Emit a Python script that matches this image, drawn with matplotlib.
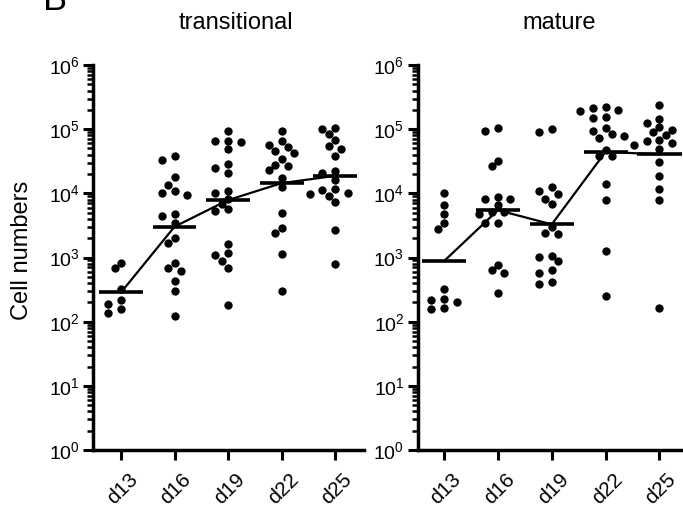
import numpy as np
import matplotlib
matplotlib.use("Agg")
import matplotlib.pyplot as plt
import matplotlib.transforms as mtransforms
from matplotlib.ticker import LogLocator, FixedFormatter, NullFormatter, FixedLocator

plt.rcParams['font.family'] = ['Liberation Sans', 'DejaVu Sans']
plt.rcParams['mathtext.fontset'] = 'custom'
plt.rcParams['mathtext.rm'] = 'Liberation Sans'

# ---------------- data ----------------
days = ["d13", "d16", "d19", "d22", "d25"]
panel_titles = ["transitional", "mature"]
y_exponents = [0, 1, 2, 3, 4, 5, 6]

trans_d13 = [810, 680, 320, 217, 186, 157, 138]
trans_d16 = [38600, 33500, 18100, 13700, 11000, 10300, 9400, 4700, 4500, 3400,
             2000, 1660, 830, 680, 610, 430, 300, 122]
trans_d19 = [94000, 66000, 66000, 63000, 49000, 28500, 25000, 21000, 10900, 10300,
             8100, 6800, 5700, 5300, 1620, 1160, 1090, 890, 680, 181]
trans_d22 = [93000, 66000, 56000, 52000, 45000, 42000, 34000, 27500, 26500, 23000,
             17400, 12600, 5000, 2900, 2400, 1120, 300]
trans_d25 = [106000, 100000, 84000, 69000, 54000, 49000, 38000, 22200, 20400, 16100,
             11500, 11200, 10000, 9700, 9100, 7200, 2700, 790]

mat_d13 = [10000, 6500, 4700, 3500, 2800, 320, 225, 217, 202, 163, 155]
mat_d16 = [102600, 93000, 31800, 26500, 8800, 8300, 8100, 6550, 5150, 5100,
           4700, 3500, 3400, 760, 640, 565, 276]
mat_d19 = [100000, 90800, 12600, 10900, 9600, 8300, 6700, 2940, 2370, 2310,
           1060, 1030, 890, 637, 565, 418, 385]
mat_d22 = [222000, 210000, 198000, 190500, 156000, 147000, 102600, 93100, 83600, 78700,
           71600, 47100, 38400, 38400, 13900, 7830, 1270, 253]
mat_d25 = [236600, 145900, 126200, 108600, 96400, 90800, 80700, 67500, 66200, 59800,
           56400, 48800, 31000, 18500, 11500, 7830, 161]

transitional = [trans_d13, trans_d16, trans_d19, trans_d22, trans_d25]
mature = [mat_d13, mat_d16, mat_d19, mat_d22, mat_d25]

# ---------------- figure ----------------
W, H = 683, 513
fig = plt.figure(figsize=(W / 100, H / 100), dpi=100)
ax1 = fig.add_axes([93 / W, 1 - 450 / H, 271 / W, 385 / H])
ax2 = fig.add_axes([417.5 / W, 1 - 450 / H, 266 / W, 385 / H])

DOT_PX = 8.3
STEP_PX = 6.3


def swarm_x(ax, vals, center):
    tr = ax.transData
    ys = [tr.transform((0, v))[1] for v in vals]
    ux = tr.transform((1, 1))[0] - tr.transform((0, 1))[0]
    order = np.argsort(ys)[::-1]
    placed = []
    offs = np.zeros(len(vals))
    cands = [0]
    for k in range(1, 12):
        cands += [-k, k]
    for i in order:
        xo = 0
        for k in cands:
            xo = k * STEP_PX
            if all((xo - px) ** 2 + (ys[i] - py) ** 2 >= (DOT_PX * 0.95) ** 2
                   for px, py in placed):
                break
        placed.append((xo, ys[i]))
        offs[i] = xo / ux
    return center + offs


def draw_panel(ax, groups, xlim, title_x, title):
    ax.set_yscale('log')
    ax.set_ylim(1, 1e6)
    ax.set_xlim(*xlim)
    xs = np.arange(len(days))
    gmeans = []
    for i, vals in enumerate(groups):
        vals = np.asarray(vals, dtype=float)
        px = swarm_x(ax, vals, xs[i])
        ax.scatter(px, vals, s=36, color='black', linewidths=0, zorder=3, clip_on=False)
        gm = 10 ** np.mean(np.log10(vals))
        gmeans.append(gm)
        ax.hlines(gm, xs[i] - 0.41, xs[i] + 0.41, color='black', lw=2.6, zorder=4)
    ax.plot(xs, gmeans, color='black', lw=1.6, zorder=4)

    for s in ('top', 'right'):
        ax.spines[s].set_visible(False)
    for s in ('left', 'bottom'):
        ax.spines[s].set_linewidth(2.5)
    ax.yaxis.set_major_locator(FixedLocator([10.0 ** e for e in y_exponents]))
    ax.yaxis.set_major_formatter(FixedFormatter(
        [r'$\mathdefault{10^{%d}}$' % e for e in y_exponents]))
    ax.yaxis.set_minor_locator(LogLocator(base=10, subs=np.arange(2, 10), numticks=100))
    ax.yaxis.set_minor_formatter(NullFormatter())
    ax.tick_params(axis='y', which='major', length=7.5, width=2.2, pad=2, labelsize=14)
    ax.tick_params(axis='y', which='minor', length=4.2, width=1.8)
    ax.set_xticks(xs)
    ax.set_xticklabels(days, rotation=45, ha='right', va='top', rotation_mode='anchor',
                       fontsize=15)
    ax.tick_params(axis='x', which='major', length=7.5, width=2.2, pad=7)
    shift = mtransforms.ScaledTranslation(5 / 72, 0, fig.dpi_scale_trans)
    for lab in ax.get_xticklabels():
        lab.set_transform(lab.get_transform() + shift)
    fig.text(title_x / W, 1 - 29 / H, title, ha='center', va='baseline', fontsize=17)


draw_panel(ax1, transitional, (-0.523, 4.54), 236, panel_titles[0])
draw_panel(ax2, mature, (-0.493, 4.447), 559, panel_titles[1])

fig.text(22 / W, 1 - 250 / H, "Cell numbers", rotation=90, ha='center', va='center',
         fontsize=17)
fig.text(43 / W, 1 - 10 / H, "B", ha='left', va='baseline', fontsize=26)

fig.savefig("out.png", dpi=100)
